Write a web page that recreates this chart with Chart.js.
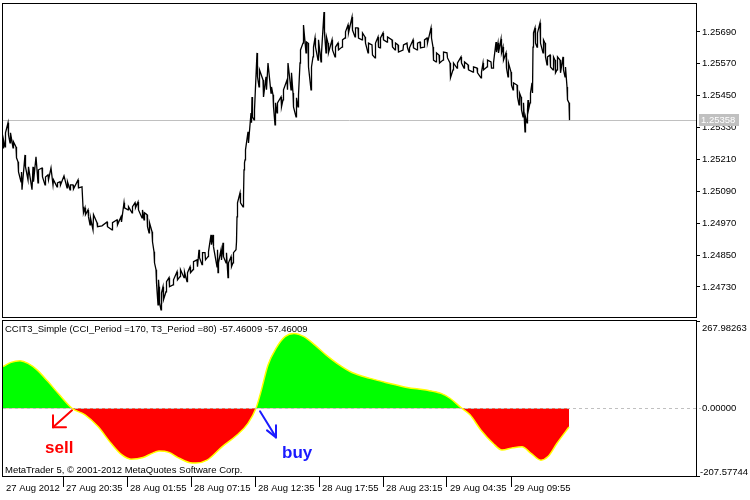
<!DOCTYPE html>
<html>
<head>
<meta charset="utf-8">
<script src="https://cdn.jsdelivr.net/npm/chart.js@4.4.0/dist/chart.umd.min.js"></script>
<style>
  html, body { margin:0; padding:0; background:#fff; }
  #wrap { position:relative; width:750px; height:500px; background:#fff; overflow:hidden; }
  #price { position:absolute; left:0; top:0; }
  #cci { position:absolute; left:0; top:318px; }
</style>
</head>
<body>
<div id="wrap">
  <canvas id="price" width="750" height="318"></canvas>
  <canvas id="cci" width="750" height="182"></canvas>
</div>
<script>
// EURUSD-ish M5 closes: bar index, then the two swings seen at that bar
const barIdx = [0,2,5,7,10,13,15,18,19,22,25,29,30,33,35,39,42,45,48,50,54,57,61,64,67,70,75,79,
  80,82,85,87,90,94,99,104,109,114,118,121,125,129,132,135,139,141,144,146,149,151,153,155,156,158,160,
  163,166,170,174,177,181,184,187,190,194,196,199,202,205,208,210,214,215,218,220,223,225,228,230,233,
  234,237,240,241,242,245,248,249,251,254,256,260,263,265,268,270,272,274,278,280,284,285,288,290,293,
  295,297,300,303,305,308,310,312,315,318,321,323,325,329,332,335,339,342,345,349,352,355,359,362,365,
  369,372,375,377,380,384,389,392,395,400,404,406,410,414,417,421,424,428,430,433,436,440,444,447,450,
  454,458,461,465,470,474,478,480,484,488,490,493,495,498,500,503,505,508,510,514,516,518,520,522,524,
  525,527,529,530,532,534,537,540,542,544,547,550,552,554,557,560,562,564,566];
const priceA = [1.25254,1.25257,1.25348,1.25272,1.25254,1.25257,1.25201,1.25126,1.25096,1.25227,1.25133,1.25096,1.25182,1.25220,1.25122,1.25178,1.25114,1.25152,1.25178,1.25114,1.25107,1.25126,1.25148,1.25103,1.25096,1.25114,1.25133,1.25107,
  1.25032,1.25028,1.25020,1.24964,1.24945,1.24972,1.24960,1.24975,1.24945,1.24983,1.24994,1.25047,1.25020,1.25009,1.25047,1.25050,1.24990,1.24983,1.25002,1.24934,1.24938,1.24863,1.24795,1.24663,1.24731,1.24644,1.24731,
  1.24712,1.24765,1.24738,1.24787,1.24769,1.24765,1.24750,1.24806,1.24795,1.24832,1.24870,1.24814,1.24859,1.24844,1.24926,1.24926,1.24806,1.24784,1.24870,1.24896,1.24821,1.24765,1.24844,1.24821,1.24870,
  1.24994,1.25084,1.25032,1.25171,1.25208,1.25314,1.25385,1.25445,1.25359,1.25611,1.25483,1.25509,1.25521,1.25573,1.25460,1.25453,1.25340,1.25385,1.25445,1.25434,1.25509,1.25573,1.25472,1.25460,1.25370,
  1.25408,1.25573,1.25648,1.25611,1.25648,1.25472,1.25596,1.25667,1.25584,1.25577,1.25765,1.25611,1.25648,1.25660,1.25596,1.25648,1.25633,1.25667,1.25716,1.25746,1.25671,1.25705,1.25660,1.25671,1.25611,
  1.25641,1.25592,1.25671,1.25630,1.25686,1.25652,1.25660,1.25622,1.25641,1.25622,1.25648,1.25614,1.25660,1.25622,1.25652,1.25633,1.25667,1.25705,1.25633,1.25577,1.25603,1.25584,1.25611,1.25573,1.25547,
  1.25554,1.25596,1.25554,1.25566,1.25539,1.25554,1.25517,1.25573,1.25558,1.25577,1.25554,1.25652,1.25648,1.25663,1.25633,1.25611,1.25521,1.25539,1.25472,1.25490,1.25415,1.25445,1.25370,1.25314,1.25348,
  1.25434,1.25423,1.25498,1.25633,1.25705,1.25633,1.25724,1.25611,1.25648,1.25566,1.25603,1.25547,1.25584,1.25547,1.25584,1.25596,1.25521,1.25483,1.25423];
const priceB = [1.25284,1.25310,1.25302,1.25310,1.25276,1.25216,1.25163,1.25163,null,1.25182,1.25182,null,1.25126,null,1.25171,1.25144,1.25144,1.25133,null,1.25133,1.25122,1.25114,null,1.25126,1.25114,1.25099,1.25103,null,
  1.25009,1.25002,1.24994,1.24990,1.25002,1.24957,null,1.24957,1.24972,1.24964,1.24975,1.25028,1.25032,1.25032,1.25028,1.25020,1.25020,1.25009,1.24957,1.24972,1.24900,1.24821,1.24746,1.24757,1.24671,1.24708,1.24682,
  1.24750,1.24731,1.24757,1.24757,1.24795,1.24787,1.24784,1.24784,1.24825,1.24806,1.24840,1.24859,1.24832,1.24863,1.24889,1.24881,1.24870,1.24821,1.24832,1.24844,1.24859,1.24821,1.24806,1.24859,1.24900,
  1.25047,1.25047,1.25069,1.25197,1.25246,1.25272,1.25348,1.25370,1.25396,1.25521,1.25547,1.25445,1.25472,null,1.25483,1.25408,1.25423,1.25423,1.25408,1.25472,1.25472,null,1.25536,1.25408,1.25442,
  1.25453,1.25622,1.25716,1.25652,1.25558,1.25558,1.25633,1.25633,1.25660,1.25611,1.25686,1.25671,1.25611,1.25622,1.25633,1.25622,1.25660,1.25690,1.25686,1.25697,1.25705,1.25667,1.25686,1.25648,1.25648,
  1.25603,1.25648,1.25633,1.25667,1.25660,1.25671,1.25633,1.25648,1.25614,1.25641,1.25630,1.25630,1.25630,1.25648,1.25630,1.25660,1.25648,1.25667,1.25584,1.25611,1.25573,1.25614,1.25592,1.25517,1.25573,
  1.25573,1.25573,1.25577,1.25547,1.25558,1.25536,1.25539,1.25547,1.25584,1.25554,1.25573,1.25614,1.25611,1.25611,1.25584,1.25554,1.25573,1.25490,1.25498,1.25445,1.25460,1.25396,1.25423,1.25370,1.25396,
  1.25396,1.25460,1.25460,1.25686,1.25648,1.25686,1.25648,1.25660,1.25596,1.25596,1.25558,1.25596,1.25536,1.25596,1.25536,1.25547,1.25558,1.25434,1.25358];
const lastPrice = 1.25358;
const priceTicks = [1.24730,1.24850,1.24970,1.25090,1.25210,1.25330,1.25450,1.25570,1.25690];
const priceMin = 1.24617, priceMax = 1.25795;

// CCIT3_Simple histogram
const cciIdx = [0,8,17,25,34,45,56,69,82,95,108,119,128,140,149,156,166,175,186,193,204,219,234,245,
  253,258,265,273,282,291,301,312,323,334,349,367,386,404,423,438,447,458,467,478,490,499,510,519,
  528,538,545,554,566];
const cciVal = [128,141,146,138,118,82,43,0,-20,-56,-107,-143,-156,-151,-138,-131,-135,-151,-166,-168,-159,-118,-82,-46,
  0,52,133,184,220,230,220,194,164,138,110,92,77,64,56,46,31,2,-20,-67,-107,-128,-121,-118,
  -138,-159,-148,-107,-57.46];
const cciMin = -207.57744, cciMax = 267.98263;

const timeTickIdx = [0,60,124,188,252,316,380,444,508];
const timeLabels = ['27 Aug 2012','27 Aug 20:35','28 Aug 01:55','28 Aug 07:15','28 Aug 12:35',
  '28 Aug 17:55','28 Aug 23:15','29 Aug 04:35','29 Aug 09:55'];
const lastBar = 693;
const sellIdx = 69, buyIdx = 255;

Chart.defaults.font.family = "'Liberation Sans', Arial, sans-serif";
Chart.defaults.font.size = 9.5;
Chart.defaults.color = '#000';

const FONT = "9.5px 'Liberation Sans', Arial, sans-serif";

function noPad(s) {
  s.paddingTop = 0;
  s.paddingBottom = 0;
  s.paddingLeft = 0;
  s.paddingRight = 0;
}

function drawFrame(ctx, a) {
  ctx.save();
  ctx.strokeStyle = '#000';
  ctx.lineWidth = 1;
  ctx.strokeRect(a.left - 0.5, a.top - 0.5, a.right - a.left + 1, a.bottom - a.top + 1);
  ctx.restore();
}

const priceDecor = {
  id: 'priceDecor',
  beforeDatasetsDraw(chart) {
    const {ctx, chartArea: a, scales: {y}} = chart;
    const py = Math.round(y.getPixelForValue(lastPrice)) + 0.5;
    ctx.save();
    ctx.strokeStyle = '#c0c0c0';
    ctx.lineWidth = 1;
    ctx.beginPath(); ctx.moveTo(a.left, py); ctx.lineTo(a.right, py); ctx.stroke();
    ctx.restore();
  },
  afterDraw(chart) {
    const {ctx, chartArea: a, scales: {y}} = chart;
    drawFrame(ctx, a);
    const py = Math.round(y.getPixelForValue(lastPrice));
    ctx.save();
    ctx.fillStyle = '#c0c0c0';
    ctx.fillRect(a.right + 3, py - 6, 40, 12);
    ctx.fillStyle = '#fff';
    ctx.font = FONT;
    ctx.textBaseline = 'middle';
    ctx.fillText(lastPrice.toFixed(5), a.right + 5, py + 0.5);
    ctx.restore();
  }
};

const priceData = [];
barIdx.forEach((x, i) => {
  priceData.push({x: x, y: priceA[i]});
  if (priceB[i] !== null) priceData.push({x: x + 0.5, y: priceB[i]});
});

new Chart(document.getElementById('price'), {
  type: 'line',
  data: {
    datasets: [{
      data: priceData,
      borderColor: '#000',
      borderWidth: 1.3,
      pointRadius: 0,
      tension: 0
    }]
  },
  options: {
    responsive: false,
    animation: false,
    devicePixelRatio: 1,
    layout: {padding: {left: 3, top: 4, right: 0, bottom: 1}},
    plugins: {legend: {display: false}, tooltip: {enabled: false}},
    scales: {
      x: {type: 'linear', display: false, min: 0, max: lastBar},
      y: {
        position: 'right',
        min: priceMin,
        max: priceMax,
        afterBuildTicks: s => { s.ticks = priceTicks.map(v => ({value: v})); },
        afterFit: s => { s.width = 54; noPad(s); },
        ticks: {callback: v => v.toFixed(5), padding: 2},
        grid: {drawOnChartArea: false, tickLength: 4, color: '#000'},
        border: {display: false}
      }
    }
  },
  plugins: [priceDecor]
});

function arrow(ctx, color, pts) {
  ctx.save();
  ctx.strokeStyle = color;
  ctx.lineWidth = 2;
  ctx.lineCap = 'round';
  pts.forEach(seg => {
    ctx.beginPath();
    ctx.moveTo(seg[0], seg[1]);
    ctx.lineTo(seg[2], seg[3]);
    ctx.stroke();
  });
  ctx.restore();
}

const cciDecor = {
  id: 'cciDecor',
  afterDatasetsDraw(chart) {
    const {ctx, chartArea: a, scales: {y}} = chart;
    const zy = Math.round(y.getPixelForValue(0)) + 0.5;
    ctx.save();
    ctx.strokeStyle = '#c0c0c0';
    ctx.lineWidth = 1;
    ctx.setLineDash([3, 3]);
    ctx.beginPath(); ctx.moveTo(a.left, zy); ctx.lineTo(a.right + 5, zy); ctx.stroke();
    ctx.restore();
  },
  afterDraw(chart) {
    const {ctx, chartArea: a, scales: {x, y}} = chart;
    drawFrame(ctx, a);
    ctx.save();
    ctx.font = FONT;
    ctx.fillStyle = '#000';
    ctx.textBaseline = 'middle';
    ctx.fillText('CCIT3_Simple (CCI_Period =170, T3_Period =80) -57.46009 -57.46009', 5, a.top + 8);
    ctx.fillText('MetaTrader 5, \u00a9 2001-2012 MetaQuotes Software Corp.', 5, a.bottom - 6);
    ctx.fillText(cciMax.toFixed(5), a.right + 6, a.top + 7);
    ctx.fillText(cciMin.toFixed(5), a.right + 4, a.bottom - 4);

    const zy = y.getPixelForValue(0);
    const sx = x.getPixelForValue(sellIdx);
    const bx = x.getPixelForValue(buyIdx);
    arrow(ctx, '#ff0000', [
      [sx, zy + 2, sx - 19, zy + 19],
      [sx - 19, zy + 19, sx - 6, zy + 19],
      [sx - 19, zy + 19, sx - 19, zy + 7]
    ]);
    arrow(ctx, '#1a1aff', [
      [bx + 2, zy + 3, bx + 18, zy + 29],
      [bx + 18, zy + 29, bx + 18, zy + 17],
      [bx + 18, zy + 29, bx + 9, zy + 22]
    ]);
    ctx.font = "bold 17px 'Liberation Sans', Arial, sans-serif";
    ctx.textBaseline = 'alphabetic';
    ctx.fillStyle = '#ff0000';
    ctx.fillText('sell', sx - 27, zy + 45);
    ctx.fillStyle = '#1a1aff';
    ctx.fillText('buy', bx + 24, zy + 50);
    ctx.restore();
  }
};

new Chart(document.getElementById('cci'), {
  type: 'line',
  data: {
    datasets: [{
      data: cciIdx.map((v, i) => ({x: v, y: cciVal[i]})),
      borderColor: '#ffff00',
      borderWidth: 1.5,
      pointRadius: 0,
      cubicInterpolationMode: 'monotone',
      fill: {target: {value: 0}, above: '#00ff00', below: '#ff0000'}
    }]
  },
  options: {
    responsive: false,
    animation: false,
    devicePixelRatio: 1,
    layout: {padding: {left: 3, top: 3, right: 0, bottom: 0}},
    plugins: {legend: {display: false}, tooltip: {enabled: false}},
    scales: {
      x: {
        type: 'linear',
        min: 0,
        max: lastBar,
        afterBuildTicks: s => { s.ticks = timeTickIdx.map(v => ({value: v})); },
        afterFit: s => { s.height = 24; noPad(s); },
        ticks: {
          autoSkip: false,
          maxRotation: 0,
          align: 'start',
          labelOffset: 3,
          padding: -4,
          callback: (v, i) => timeLabels[i]
        },
        grid: {
          drawOnChartArea: false,
          tickLength: 11,
          color: c => (c.index === 0 ? 'rgba(0,0,0,0)' : '#000')
        },
        border: {display: false}
      },
      y: {
        position: 'right',
        min: cciMin,
        max: cciMax,
        afterBuildTicks: s => { s.ticks = [cciMin, 0, cciMax].map(v => ({value: v})); },
        afterFit: s => { s.width = 54; noPad(s); },
        ticks: {callback: v => (v === 0 ? '0.00000' : ''), padding: 2},
        grid: {
          drawOnChartArea: false,
          tickLength: 4,
          color: c => (c.tick && c.tick.value === 0 ? 'rgba(0,0,0,0)' : '#000')
        },
        border: {display: false}
      }
    }
  },
  plugins: [cciDecor]
});
</script>
</body>
</html>
